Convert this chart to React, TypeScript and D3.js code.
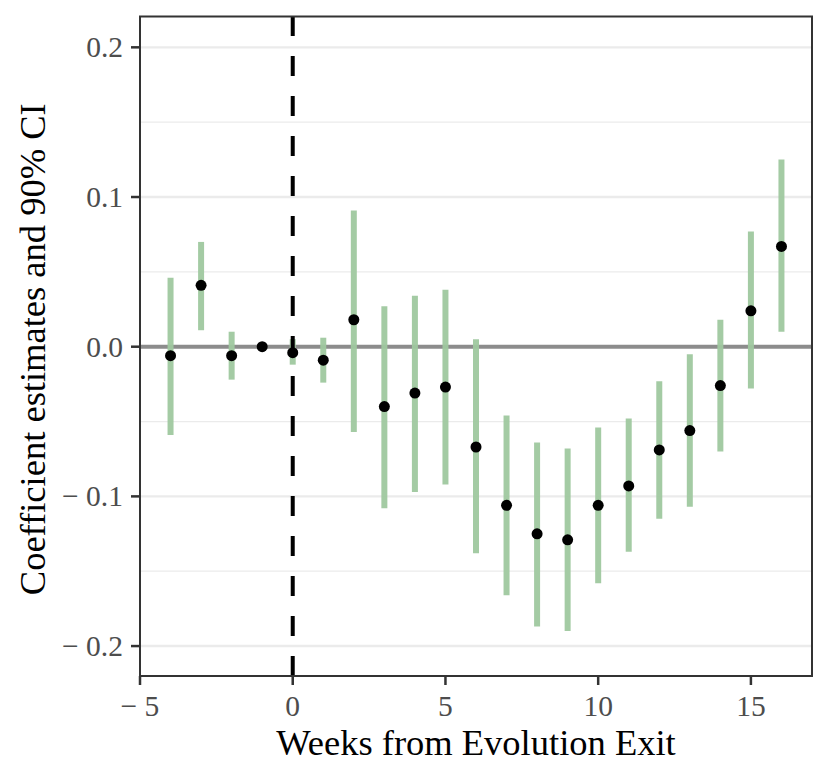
import * as React from "react";
import * as d3 from "d3";

const weeks = [-4, -3, -2, -1, 0, 1, 2, 3, 4, 5, 6, 7, 8, 9, 10, 11, 12, 13, 14, 15, 16];
const estimates = [-0.006, 0.041, -0.006, 0, -0.004, -0.009, 0.018, -0.040, -0.031, -0.027, -0.067, -0.106, -0.125, -0.129, -0.106, -0.093, -0.069, -0.056, -0.026, 0.024, 0.067];
const ciLower = [-0.059, 0.011, -0.022, 0, -0.012, -0.024, -0.057, -0.108, -0.097, -0.092, -0.138, -0.166, -0.187, -0.190, -0.158, -0.137, -0.115, -0.107, -0.070, -0.028, 0.010];
const ciUpper = [0.046, 0.070, 0.010, 0, 0.005, 0.006, 0.091, 0.027, 0.034, 0.038, 0.005, -0.046, -0.064, -0.068, -0.054, -0.048, -0.023, -0.005, 0.018, 0.077, 0.125];
const xTicks = [-5, 0, 5, 10, 15];
const yTicks = [-0.2, -0.1, 0, 0.1, 0.2];
const yMinor = [-0.15, -0.05, 0.05, 0.15];
const eventWeek = 0;

function fmtNum(v: number, digits: number) {
  const s = Math.abs(v).toFixed(digits);
  return v < -1e-9 ? `\u2212 ${s}` : s;
}

function drawChart(svgRef: React.RefObject<SVGSVGElement>) {
  const width = 830;
  const height = 782;
  const panel = { left: 140, right: 812, top: 16.5, bottom: 676 };
  const font = '"Liberation Serif", "DejaVu Serif", serif';

  const svg = d3.select(svgRef.current);
  svg.selectAll("*").remove();
  svg.attr("width", width).attr("height", height);

  const x = d3.scaleLinear().domain([-5, 17]).range([panel.left, panel.right]);
  const y = d3.scaleLinear().domain([-0.22, 0.2206]).range([panel.bottom, panel.top]);

  const data = weeks.map((w, i) => ({ w, est: estimates[i], lo: ciLower[i], hi: ciUpper[i] }));

  svg.append("rect").attr("width", width).attr("height", height).attr("fill", "#ffffff");

  // grid
  svg.selectAll(".minor").data(yMinor).enter().append("line")
    .attr("x1", panel.left).attr("x2", panel.right)
    .attr("y1", (d) => y(d)).attr("y2", (d) => y(d))
    .attr("stroke", "#ebebeb").attr("stroke-width", 1.2);
  svg.selectAll(".major").data(yTicks).enter().append("line")
    .attr("x1", panel.left).attr("x2", panel.right)
    .attr("y1", (d) => y(d)).attr("y2", (d) => y(d))
    .attr("stroke", "#ebebeb").attr("stroke-width", 2.4);

  // zero line
  svg.append("line")
    .attr("x1", panel.left).attr("x2", panel.right)
    .attr("y1", y(0)).attr("y2", y(0))
    .attr("stroke", "#8c8c8c").attr("stroke-width", 4);

  // CI bars
  svg.selectAll(".ci").data(data).enter().append("line")
    .attr("x1", (d) => x(d.w)).attr("x2", (d) => x(d.w))
    .attr("y1", (d) => y(d.lo)).attr("y2", (d) => y(d.hi))
    .attr("stroke", "#9fc89f").attr("stroke-opacity", 0.95).attr("stroke-width", 6);

  // event line
  svg.append("line")
    .attr("x1", x(eventWeek)).attr("x2", x(eventWeek))
    .attr("y1", panel.bottom).attr("y2", panel.top)
    .attr("stroke", "#000000").attr("stroke-width", 4)
    .attr("stroke-dasharray", "20 20");

  // points
  svg.selectAll(".pt").data(data).enter().append("circle")
    .attr("cx", (d) => x(d.w)).attr("cy", (d) => y(d.est))
    .attr("r", 5.5).attr("fill", "#000000");

  // panel border
  svg.append("rect")
    .attr("x", panel.left).attr("y", panel.top)
    .attr("width", panel.right - panel.left).attr("height", panel.bottom - panel.top)
    .attr("fill", "none").attr("stroke", "#333333").attr("stroke-width", 2);

  // y axis ticks + labels
  const yAxis = svg.append("g");
  yTicks.forEach((t) => {
    yAxis.append("line")
      .attr("x1", panel.left - 9).attr("x2", panel.left)
      .attr("y1", y(t)).attr("y2", y(t))
      .attr("stroke", "#333333").attr("stroke-width", 2.5);
    yAxis.append("text")
      .attr("x", panel.left - 17).attr("y", y(t))
      .attr("dy", "0.34em")
      .attr("text-anchor", "end")
      .attr("font-family", font).attr("font-size", 29.5)
      .attr("fill", "#4d4d4d")
      .text(fmtNum(t, 1));
  });

  // x axis ticks + labels
  const xAxis = svg.append("g");
  xTicks.forEach((t) => {
    xAxis.append("line")
      .attr("x1", x(t)).attr("x2", x(t))
      .attr("y1", panel.bottom).attr("y2", panel.bottom + 9)
      .attr("stroke", "#333333").attr("stroke-width", 2.5);
    xAxis.append("text")
      .attr("x", x(t)).attr("y", 715.5)
      .attr("text-anchor", "middle")
      .attr("font-family", font).attr("font-size", 29.5)
      .attr("fill", "#4d4d4d")
      .text(fmtNum(t, 0));
  });

  // titles
  svg.append("text")
    .attr("x", (panel.left + panel.right) / 2).attr("y", 755)
    .attr("text-anchor", "middle")
    .attr("font-family", font).attr("font-size", 36.5)
    .attr("fill", "#000000")
    .text("Weeks from Evolution Exit");

  svg.append("text")
    .attr("transform", `translate(45, ${(panel.top + panel.bottom) / 2 + 3}) rotate(-90)`)
    .attr("text-anchor", "middle")
    .attr("font-family", font).attr("font-size", 36.5)
    .attr("fill", "#000000")
    .text("Coefficient estimates and 90% CI");
}

const App: React.FunctionComponent = () => {
  const svg = React.useRef<SVGSVGElement>(null);
  React.useEffect(() => {
    drawChart(svg);
  }, [svg]);

  return (
    <div id="chart" style={{ position: "absolute", left: 0, top: 0 }}>
      <svg ref={svg} style={{ display: "block" }} />
    </div>
  );
};

export default App;
